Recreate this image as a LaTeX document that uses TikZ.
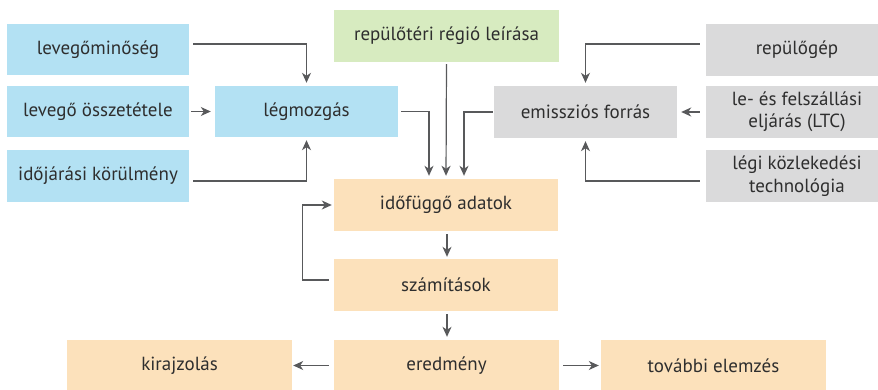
\documentclass[tikz,border=0pt]{standalone}
\usepackage{fontspec}
\setmainfont{PT Sans}
\usetikzlibrary{arrows.meta}
\definecolor{cblue}{HTML}{B3E1F3}
\definecolor{cgreen}{HTML}{D7EBC0}
\definecolor{cgray}{HTML}{DADADB}
\definecolor{corange}{HTML}{FCE1BB}
\definecolor{ctext}{HTML}{2E2E2E}
\definecolor{carrow}{HTML}{58595B}
\tikzset{
  bx/.style={rectangle, inner sep=0pt, text=ctext, font=\fontsize{19}{22.5}\selectfont, align=center, minimum height=52},
  arr/.style={draw=carrow, line width=1.2pt, -{Stealth[length=10pt,width=9pt,inset=3pt]}},
}
\begin{document}
\begin{tikzpicture}[x=1pt,y=-1pt]
\useasboundingbox (0,0) rectangle (878,390);
% left column
\node[bx, fill=cblue, minimum width=182, minimum height=51] (lq) at (98,49.5) {levegőminőség};
\node[bx, fill=cblue, minimum width=182, minimum height=51] (lo) at (98,111.5) {levegő összetétele};
\node[bx, fill=cblue, minimum width=182] (ij) at (98,176) {időjárási körülmény};
\node[bx, fill=cblue, minimum width=183, minimum height=51] (lm) at (306.5,111.5) {légmozgás};
% middle
\node[bx, fill=cgreen, minimum width=225] (rr) at (446.5,36) {repülőtéri régió leírása};
\node[bx, fill=cgray, minimum width=183] (ef) at (585.5,112) {emissziós forrás};
% right column
\node[bx, fill=cgray, minimum width=182] (rg) at (797,50) {repülőgép};
\node[bx, fill=cgray, minimum width=182] (ltc) at (797,112) {le- és felszállási\\eljárás (LTC)};
\node[bx, fill=cgray, minimum width=182] (lk) at (797,176) {légi közlekedési\\technológia};
% center column
\node[bx, fill=corange, minimum width=224] (ia) at (446,205) {időfüggő adatok};
\node[bx, fill=corange, minimum width=224] (sz) at (446,285) {számítások};
\node[bx, fill=corange, minimum width=225, minimum height=51] (er) at (446.5,365.5) {eredmény};
\node[bx, fill=corange, minimum width=225, minimum height=51] (ki) at (179.5,365.5) {kirajzolás};
\node[bx, fill=corange, minimum width=225, minimum height=51] (te) at (713.5,365.5) {további elemzés};
% connectors
\draw[arr, shorten <=4pt, shorten >=3pt] ([yshift=5.5pt]lq.east) -| (lm.north);
\draw[arr, shorten <=2pt, shorten >=4pt] (lo.east) -- (lm.west);
\draw[arr, shorten <=4pt, shorten >=3pt] ([yshift=-5pt]ij.east) -| (lm.south);
\draw[arr, shorten <=3pt, shorten >=3pt] (lm.east) -| ([xshift=-17pt]ia.north);
\draw[arr, shorten <=2pt, shorten >=3pt] (rr.south) -- (ia.north);
\draw[arr, shorten <=1pt, shorten >=3pt] (ef.west) -| ([xshift=18pt]ia.north);
\draw[arr, shorten <=6pt, shorten >=3pt] ([yshift=6pt]rg.west) -| (ef.north);
\draw[arr, shorten <=6pt, shorten >=4pt] (ltc.west) -- (ef.east);
\draw[arr, shorten <=6pt, shorten >=3pt] ([yshift=-5pt]lk.west) -| (ef.south);
\draw[arr, shorten <=3pt, shorten >=2pt] ([xshift=1pt]ia.south) -- ([xshift=1pt]sz.north);
\draw[arr, shorten >=2pt] ([xshift=-5pt,yshift=5pt]sz.west) -- ++(-26,0) |- (ia.west);
\draw[arr, shorten <=3pt, shorten >=3pt] ([xshift=1pt]sz.south) -- ([xshift=0.5pt]er.north);
\draw[arr, shorten <=5pt, shorten >=1pt] (er.west) -- (ki.east);
\draw[arr, shorten <=4pt, shorten >=2pt] (er.east) -- (te.west);
\end{tikzpicture}
\end{document}
